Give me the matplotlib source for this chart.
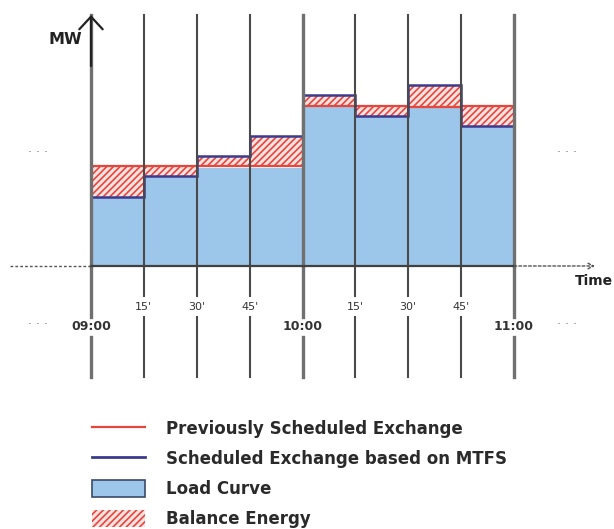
import matplotlib.pyplot as plt
from matplotlib.lines import Line2D
from matplotlib.patches import Patch
import numpy as np

# quarter-hour intervals from 09:00 (minutes)
edges = np.arange(0, 121, 15)
prev_sched = np.array([100, 100, 100, 100, 160, 160, 159, 160])   # Previously Scheduled Exchange
mtfs_sched = np.array([69, 90, 110, 130, 171, 150, 181, 140])     # Scheduled Exchange based on MTFS
load = np.array([69, 90, 98, 98, 159, 150, 159, 140])             # Load Curve

hour_ticks = [0, 60, 120]
hour_labels = ['09:00', '10:00', '11:00']
quarter_ticks = [15, 30, 45, 75, 90, 105]
quarter_labels = ["15'", "30'", "45'", "15'", "30'", "45'"]

legend_labels = ['Previously Scheduled Exchange',
                 'Scheduled Exchange based on MTFS',
                 'Load Curve',
                 'Balance Energy']

red = '#e8453c'
navy = '#3b3b8f'
lightblue = '#9cc7ea'
plt.rcParams['hatch.linewidth'] = 1.2

fig = plt.figure(figsize=(6.14, 5.29), dpi=100)
ax = fig.add_axes([0, 0, 1, 1])
ax.set_xlim(-91 / 3.525, 523 / 3.525)
ax.set_ylim(-263, 266)
ax.axis('off')

# load curve and balance energy
ax.bar(edges[:-1], load, width=15, align='edge', color=lightblue, linewidth=0, zorder=1)
low = np.minimum(prev_sched, mtfs_sched)
ax.bar(edges[:-1], np.abs(prev_sched - mtfs_sched), bottom=low, width=15, align='edge',
       facecolor='#fbe3e1', edgecolor=red, hatch='/////', linewidth=0, zorder=1)

ax.stairs(prev_sched, edges, baseline=None, color=red, linewidth=1.6, zorder=3)
ax.stairs(mtfs_sched, edges, baseline=None, color=navy, linewidth=1.8, zorder=3)

# vertical time lines, broken where the labels sit
top, bottom = 251, -111
for t in edges:
    if t in hour_ticks:
        gap = (-51, -71)
        kw = dict(color='#707070', linewidth=2.4)
    else:
        gap = (-30, -51)
        kw = dict(color='#4a4a4a', linewidth=1.5)
    ax.plot([t, t], [0, top], zorder=4, **kw)
    ax.plot([t, t], [0, gap[0]], zorder=4, **kw)
    ax.plot([t, t], [gap[1], bottom], zorder=4, **kw)

for t, lab in zip(hour_ticks, hour_labels):
    ax.text(t, -61, lab, ha='center', va='center', fontsize=9, fontweight='bold', color='#333333')
for t, lab in zip(quarter_ticks, quarter_labels):
    ax.text(t, -41, lab, ha='center', va='center', fontsize=8, color='#333333')

# time axis
ax.plot([0, 120], [0, 0], color='#404040', linewidth=1.6, zorder=5)
ax.plot([-23, 0], [0, 0], color='#555555', linewidth=1, linestyle=(0, (2, 1.5)), zorder=5)
ax.annotate('', xy=(143, 0), xytext=(120, 0),
            arrowprops=dict(arrowstyle='->', color='#555555', linewidth=1,
                            linestyle=(0, (2, 1.5)), shrinkA=0, shrinkB=0), zorder=5)
ax.text(137.3, -15, 'Time', ha='left', va='center', fontsize=10, fontweight='bold', color='#222222')

# MW axis arrow
ax.annotate('', xy=(0, 251), xytext=(0, 200),
            arrowprops=dict(arrowstyle='->,head_length=0.65,head_width=0.6', color='#222222',
                            linewidth=1.6, mutation_scale=14, shrinkA=0, shrinkB=0), zorder=6)
ax.text(-2.4, 227, 'MW', ha='right', va='center', fontsize=11.5, fontweight='bold', color='#222222')

for x, y in [(-15, 117), (135, 117), (-15, -54), (135, -54)]:
    ax.text(x, y, '. . .', ha='center', va='center', fontsize=9, color='#777777')

handles = [Line2D([], [], color=red, linewidth=1.6),
           Line2D([], [], color=navy, linewidth=2),
           Patch(facecolor=lightblue, edgecolor='#3a4a6a', linewidth=1.2),
           Patch(facecolor='#fbe3e1', edgecolor=red, hatch='/////', linewidth=0)]
fig.legend(handles, legend_labels, loc='upper left', bbox_to_anchor=(92 / 614, 1 - 420 / 529),
           frameon=False, borderpad=0, borderaxespad=0, handlelength=3.15, handleheight=1.15,
           handletextpad=1.3, labelspacing=0.72,
           prop=dict(size=12, weight='bold'), labelcolor='#2a2a2a')

plt.savefig('out.png', dpi=100)
